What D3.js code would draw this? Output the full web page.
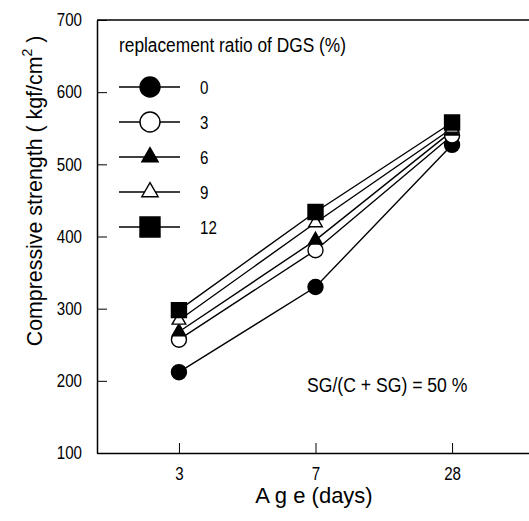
<!DOCTYPE html>
<html>
<head>
<meta charset="utf-8">
<script src="https://cdn.jsdelivr.net/npm/d3@7"></script>
<style>
  body { margin: 0; background: #fff; }
  text { font-family: "Liberation Sans", Arial, sans-serif; fill: #000; }
</style>
</head>
<body>
<div id="chart-area"></div>
<script>
// data
var ages = ["3", "7", "28"];
var ratios = ["0", "3", "6", "9", "12"];
var s0 = [212, 330, 527];
var s3 = [257, 381, 540];
var s6 = [268, 395, 546];
var s9 = [284, 419, 550];
var s12 = [298, 434, 558];
var yTicks = [100, 200, 300, 400, 500, 600, 700];

var series = [s0, s3, s6, s9, s12];
// marker per ratio: shape + filled?
var markers = [
	{ type: d3.symbolCircle, fill: true },
	{ type: d3.symbolCircle, fill: false },
	{ type: d3.symbolTriangle, fill: true },
	{ type: d3.symbolTriangle, fill: false },
	{ type: d3.symbolSquare, fill: true }
];
var plotSize = { circle: 177, triangle: 80, square: 225 };
var legendSize = { circle: 314, triangle: 115, square: 400 };

function sizeFor(type, sizes) {
	if (type === d3.symbolCircle) return sizes.circle;
	if (type === d3.symbolTriangle) return sizes.triangle;
	return sizes.square;
}

// the original uses a narrow Helvetica; squeeze Liberation Sans to match
function narrow(sel, k) {
	sel.each(function(){
		var len = this.getComputedTextLength();
		d3.select(this)
			.attr("textLength", len * k)
			.attr("lengthAdjust", "spacingAndGlyphs");
	});
}

var W = 529, H = 521;
var svg = d3.select("#chart-area")
	.append("svg")
		.attr("width", W)
		.attr("height", H);

//scales
var x = d3.scalePoint()
	.domain(ages)
	.range([97, 534])
	.padding(0.6);

var y = d3.scaleLinear()
	.domain([100, 700])
	.range([453, 20]);

//frame: top line (runs off the right edge like the original)
svg.append("line")
	.attr("x1", 97).attr("x2", 534)
	.attr("y1", y(700)).attr("y2", y(700))
	.attr("stroke", "#000").attr("stroke-width", 1.5);

//y axis, ticks pointing inward
var yAxis = d3.axisLeft(y)
	.tickValues(yTicks)
	.tickSizeInner(-10)
	.tickSizeOuter(0)
	.tickPadding(15);

var gy = svg.append("g")
	.attr("transform", "translate(97,0)")
	.attr("font-family", null)
	.call(yAxis);
gy.attr("font-family", null);
gy.select(".domain").attr("stroke-width", 1.5);
gy.selectAll("text").attr("font-size", 18).call(narrow, 0.84);

//x axis
var xAxis = d3.axisBottom(x)
	.tickSizeInner(-10)
	.tickSizeOuter(0)
	.tickPadding(14);

var gx = svg.append("g")
	.attr("transform", "translate(0,453)")
	.call(xAxis);
gx.attr("font-family", null);
gx.select(".domain").attr("stroke-width", 1.5);
gx.selectAll("text").attr("font-size", 18).call(narrow, 0.84);

//axis titles
svg.append("text")
	.attr("x", 314)
	.attr("y", 503)
	.attr("font-size", 22)
	.attr("text-anchor", "middle")
	.text("A g e (days)");

var YK = 0.93;
var yLabel = svg.append("text")
	.attr("transform", "rotate(-90) scale(" + YK + ",1)")
	.attr("x", -191 / YK)
	.attr("y", 42)
	.attr("font-size", 23)
	.attr("text-anchor", "middle");
yLabel.append("tspan").text("Compressive strength ( kgf/cm");
yLabel.append("tspan").attr("font-size", 15).attr("dy", -10).text("2");
yLabel.append("tspan").attr("dy", 10).text(" )");

//lines
var line = d3.line()
	.x(function(d, i){ return x(ages[i]); })
	.y(function(d){ return y(d); });

series.forEach(function(s, k){
	svg.append("path")
		.datum(s)
		.attr("fill", "none")
		.attr("stroke", "#000")
		.attr("stroke-width", 1.4)
		.attr("d", line);
});

//markers
series.forEach(function(s, k){
	var m = markers[k];
	var sym = d3.symbol().type(m.type).size(sizeFor(m.type, plotSize));
	svg.selectAll(".m" + k)
		.data(s)
		.enter()
		.append("path")
			.attr("class", "m" + k)
			.attr("transform", function(d, i){ return "translate(" + x(ages[i]) + "," + y(d) + ")"; })
			.attr("d", sym)
			.attr("fill", m.fill ? "#000" : "#fff")
			.attr("stroke", "#000")
			.attr("stroke-width", 1.4);
});

//legend
var legend = svg.append("g")
	.attr("transform", "translate(119, 52)");

legend.append("text")
	.attr("x", 0)
	.attr("y", 0)
	.attr("font-size", 20)
	.text("replacement ratio of DGS (%)")
	.call(narrow, 0.865);

ratios.forEach(function(r, i){
	var m = markers[i];
	var row = legend.append("g")
		.attr("transform", "translate(0, " + (35 + i * 35) + ")");
	row.append("line")
		.attr("x1", 0).attr("x2", 61)
		.attr("stroke", "#000").attr("stroke-width", 1.4);
	row.append("path")
		.attr("transform", "translate(31,0)")
		.attr("d", d3.symbol().type(m.type).size(sizeFor(m.type, legendSize)))
		.attr("fill", m.fill ? "#000" : "#fff")
		.attr("stroke", "#000")
		.attr("stroke-width", 1.4);
	row.append("text")
		.attr("x", 81)
		.attr("y", 7)
		.attr("font-size", 18)
		.text(r)
		.call(narrow, 0.84);
});

//annotation
svg.append("text")
	.attr("x", 307)
	.attr("y", 392)
	.attr("font-size", 20)
	.text("SG/(C + SG) = 50 %")
	.call(narrow, 0.88);
</script>
</body>
</html>
